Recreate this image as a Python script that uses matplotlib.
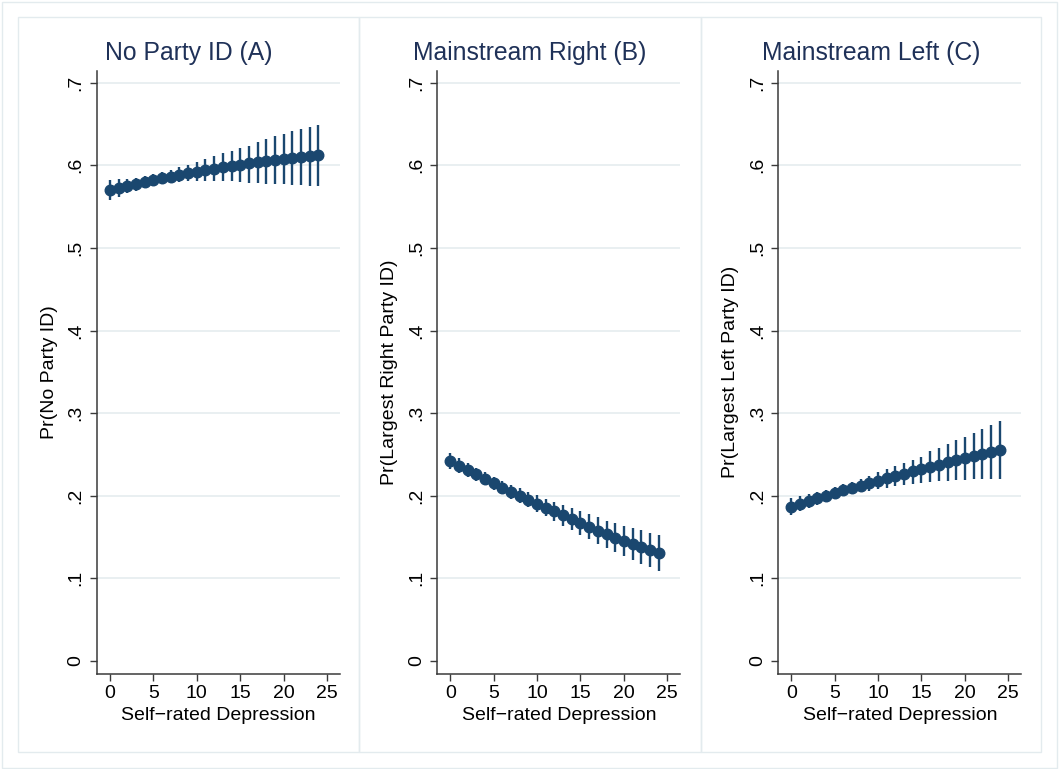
import matplotlib
matplotlib.use("Agg")
import matplotlib.pyplot as plt
from matplotlib.patches import Rectangle

plt.rcParams["font.family"] = ["Liberation Sans", "DejaVu Sans"]

# data: predicted probabilities with 95% CIs by self-rated depression score
depression = list(range(25))

a_pt = [0.5700, 0.5725, 0.5749, 0.5773, 0.5797, 0.5820, 0.5842, 0.5864, 0.5885, 0.5905, 0.5925, 0.5943, 0.5961,
        0.5978, 0.5994, 0.6010, 0.6024, 0.6038, 0.6051, 0.6063, 0.6075, 0.6087, 0.6098, 0.6109, 0.6120]
a_lo = [0.5580, 0.5620, 0.5660, 0.5695, 0.5725, 0.5750, 0.5770, 0.5785, 0.5795, 0.5805, 0.5812, 0.5815, 0.5815,
        0.5813, 0.5808, 0.5800, 0.5792, 0.5785, 0.5780, 0.5775, 0.5772, 0.5768, 0.5762, 0.5755, 0.5748]
a_hi = [0.5820, 0.5830, 0.5838, 0.5851, 0.5869, 0.5890, 0.5914, 0.5942, 0.5975, 0.6008, 0.6045, 0.6082, 0.6115,
        0.6146, 0.6175, 0.6205, 0.6240, 0.6280, 0.6320, 0.6355, 0.6385, 0.6415, 0.6440, 0.6465, 0.6485]

b_pt = [0.2420, 0.2366, 0.2312, 0.2258, 0.2205, 0.2152, 0.2100, 0.2051, 0.2002, 0.1953, 0.1905, 0.1857, 0.1810,
        0.1763, 0.1716, 0.1670, 0.1624, 0.1578, 0.1533, 0.1493, 0.1455, 0.1418, 0.1380, 0.1345, 0.1310]
b_lo = [0.2320, 0.2273, 0.2225, 0.2175, 0.2125, 0.2073, 0.2020, 0.1966, 0.1912, 0.1858, 0.1805, 0.1750, 0.1690,
        0.1635, 0.1582, 0.1528, 0.1475, 0.1422, 0.1370, 0.1320, 0.1272, 0.1225, 0.1178, 0.1133, 0.1085]
b_hi = [0.2520, 0.2459, 0.2399, 0.2341, 0.2285, 0.2231, 0.2180, 0.2136, 0.2092, 0.2048, 0.2005, 0.1964, 0.1928,
        0.1890, 0.1852, 0.1814, 0.1776, 0.1738, 0.1700, 0.1668, 0.1638, 0.1610, 0.1582, 0.1555, 0.1530]

c_pt = [0.1870, 0.1903, 0.1936, 0.1969, 0.2001, 0.2033, 0.2065, 0.2095, 0.2124, 0.2153, 0.2182, 0.2211, 0.2240,
        0.2268, 0.2296, 0.2323, 0.2351, 0.2378, 0.2405, 0.2430, 0.2455, 0.2480, 0.2505, 0.2530, 0.2556]
c_lo = [0.1770, 0.1813, 0.1853, 0.1892, 0.1928, 0.1961, 0.1992, 0.2018, 0.2041, 0.2062, 0.2081, 0.2099, 0.2115,
        0.2129, 0.2142, 0.2153, 0.2164, 0.2173, 0.2182, 0.2188, 0.2193, 0.2198, 0.2202, 0.2205, 0.2206]
c_hi = [0.1970, 0.1993, 0.2019, 0.2046, 0.2074, 0.2105, 0.2138, 0.2172, 0.2207, 0.2244, 0.2283, 0.2323, 0.2365,
        0.2392, 0.2428, 0.2470, 0.2538, 0.2583, 0.2628, 0.2672, 0.2717, 0.2762, 0.2808, 0.2855, 0.2906]

titles = ["No Party ID (A)", "Mainstream Right (B)", "Mainstream Left (C)"]
ylabels = ["Pr(No Party ID)", "Pr(Largest Right Party ID)", "Pr(Largest Left Party ID)"]
xlabel = "Self\u2212rated Depression"
yticks = [0, 0.1, 0.2, 0.3, 0.4, 0.5, 0.6, 0.7]
ytick_labels = ["0", ".1", ".2", ".3", ".4", ".5", ".6", ".7"]
xticks = [0, 5, 10, 15, 20, 25]

NAVY = "#1a476f"; GRID = "#e3ebee"; FRAME = "#e3ebee"; TITLE = "#1f3158"; AX = "#3a3a3a"

W, H = 1059, 769
fig = plt.figure(figsize=(W / 100, H / 100), dpi=100)
fig.patch.set_facecolor("white")

# outer frame + the three panel boxes (pixel coords -> figure fraction)
def box(x0, y0, x1, y1):
    fig.patches.append(Rectangle((x0 / W, 1 - y1 / H), (x1 - x0) / W, (y1 - y0) / H,
                                 transform=fig.transFigure, fc="none", ec=FRAME, lw=1.0, zorder=0))

box(2, 1.5, 1057, 767.5)
panel_x = [(18, 359.3), (359.3, 700.7), (700.7, 1041)]
for x0, x1 in panel_x:
    box(x0, 17, x1, 752)

series = [(a_pt, a_lo, a_hi), (b_pt, b_lo, b_hi), (c_pt, c_lo, c_hi)]
ax_left = [97, 437.3, 778.3]
ax_w = 243
ax_top, ax_bot = 71, 673.7

for i, (pt, lo, hi) in enumerate(series):
    ax = fig.add_axes([ax_left[i] / W, 1 - ax_bot / H, ax_w / W, (ax_bot - ax_top) / H])
    ax.vlines(depression, lo, hi, color=NAVY, lw=1.7, zorder=3)
    ax.plot(depression, pt, "o", color=NAVY, ms=7.6, mec=NAVY, zorder=4)

    ax.set_xlim(-1.5, 26.5)
    ax.set_ylim(-0.0154, 0.7142)
    ax.set_xticks(xticks)
    ax.set_yticks(yticks)
    ax.set_yticklabels(ytick_labels)
    for s in ["top", "right"]:
        ax.spines[s].set_visible(False)
    for s in ["left", "bottom"]:
        ax.spines[s].set_color(AX)
        ax.spines[s].set_linewidth(1.1)
    ax.tick_params(axis="both", length=5, width=1.0, color=AX, labelsize=14, labelcolor="black")
    ax.tick_params(axis="x", pad=3)
    ax.tick_params(axis="y", pad=4, labelrotation=90)
    for lab in ax.get_yticklabels():
        lab.set_va("center")

    ax.grid(axis="y", color=GRID, lw=1.1, zorder=0)
    ax.yaxis.get_gridlines()[0].set_visible(False)
    ax.set_axisbelow(True)

    ax.set_xlabel(xlabel, fontsize=14)
    ax.xaxis.set_label_coords(0.5, -0.056)
    ax.set_ylabel(ylabels[i], fontsize=14)
    ax.yaxis.set_label_coords(-0.16, 0.5)

    cx = (panel_x[i][0] + panel_x[i][1]) / 2
    fig.text(cx / W, 1 - 60 / H, titles[i], fontsize=17.8, color=TITLE, ha="center", va="baseline")

fig.savefig("out.png", dpi=100)
